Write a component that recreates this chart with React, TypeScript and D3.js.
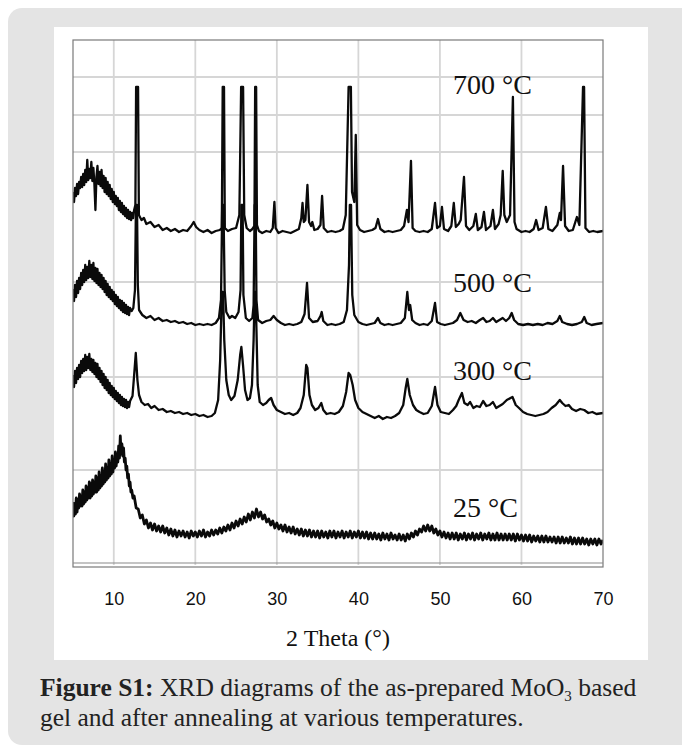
import { useRef, useEffect } from 'react';
import * as d3 from 'd3';

type Pt = [number, number];

// 2θ (deg) vs intensity (a.u., above each pattern's own baseline)
const xrd700: Pt[] = [
  [5, 40], [5.125, 30], [5.25, 44], [5.375, 36], [5.5, 48], [5.625, 38], [5.75, 50], [5.875, 44], [6, 55], [6.125, 45],
  [6.25, 58], [6.375, 47], [6.5, 62], [6.625, 50], [6.75, 72], [6.875, 52], [7, 63], [7.125, 54], [7.25, 70], [7.375, 51],
  [7.5, 64], [7.625, 48], [7.75, 22], [7.875, 55], [8, 66], [8.125, 48], [8.25, 60], [8.375, 46], [8.5, 62], [8.625, 44],
  [8.75, 56], [8.875, 40], [9, 54], [9.125, 38], [9.25, 50], [9.375, 36], [9.5, 47], [9.625, 33], [9.75, 43], [9.875, 30],
  [10, 40], [10.125, 28], [10.25, 36], [10.375, 26], [10.5, 34], [10.625, 22], [10.75, 31], [10.875, 20], [11, 29], [11.125, 18],
  [11.25, 26], [11.375, 16], [11.5, 24], [11.625, 14], [11.75, 22], [11.875, 13], [12, 20], [12.125, 12], [12.25, 19], [12.375, 14],
  [12.5, 22], [12.65, 27], [12.74, 145], [12.98, 145], [13.08, 17], [13.4, 12], [13.7, 14], [14, 8], [14.5, 10], [15, 5],
  [15.5, 7], [16, 2], [16.5, 4], [17, 1], [17.5, 3], [18, 0], [18.5, 2], [19, 1], [19.5, 6], [19.8, 10],
  [20.1, 5], [20.5, 2], [21, 0], [21.5, 2], [22, -1], [22.5, 1], [23, 2], [23.25, 4], [23.36, 145], [23.52, 145],
  [23.62, 4], [24, 1], [24.5, 3], [25, 4], [25.4, 17], [25.62, 145], [25.86, 145], [26, 17], [26.3, 4], [26.7, 1],
  [27, 3], [27.25, 6], [27.34, 145], [27.46, 145], [27.56, 7], [27.8, 1], [28.2, -1], [28.7, 1], [29.2, 0], [29.5, 4],
  [29.7, 30], [29.85, 4], [30.2, -1], [30.7, 1], [31.2, 0], [31.7, -1], [32.2, 1], [32.7, 3], [33, 14], [33.15, 29],
  [33.3, 10], [33.5, 12], [33.75, 47], [33.95, 10], [34.2, 6], [34.35, 10], [34.6, 2], [35, 3], [35.35, 7], [35.55, 36],
  [35.75, 4], [36.2, 0], [36.7, 1], [37.2, 0], [37.7, 1], [38.1, 3], [38.45, 17], [38.8, 145], [39.08, 145], [39.22, 40],
  [39.5, 30], [39.68, 97], [39.85, 7], [40.2, 2], [40.7, 0], [41.2, 1], [41.7, 2], [42.1, 4], [42.4, 13], [42.7, 3],
  [43.2, 0], [43.7, 1], [44.2, 0], [44.7, 1], [45.2, 2], [45.6, 6], [45.95, 22], [46.15, 10], [46.45, 71], [46.65, 4],
  [47, 1], [47.5, 0], [48, 1], [48.5, 0], [49, 3], [49.4, 29], [49.65, 4], [50, 6], [50.25, 25], [50.5, 3],
  [51, 1], [51.4, 6], [51.7, 29], [51.95, 5], [52.3, 8], [52.55, 12], [52.95, 55], [53.2, 6], [53.6, 2], [54.1, 6],
  [54.4, 18], [54.65, 2], [55.1, 5], [55.4, 20], [55.65, 2], [56.2, 6], [56.5, 22], [56.75, 3], [57.2, 8], [57.45, 17],
  [57.7, 61], [57.9, 17], [58.2, 10], [58.6, 17], [58.95, 135], [59.15, 10], [59.4, 3], [60, 0], [60.5, 1], [61, 0],
  [61.5, 3], [61.8, 12], [62.1, 2], [62.6, 4], [63, 25], [63.3, 3], [63.8, 1], [64.4, 7], [64.7, 19], [64.85, 12],
  [65.1, 66], [65.35, 6], [65.8, 1], [66.3, 2], [66.8, 15], [67.1, 7], [67.55, 145], [67.68, 145], [67.85, 4], [68.3, 0],
  [68.8, 1], [69.3, 0], [70, 1],
];

const xrd500: Pt[] = [
  [5, 36], [5.125, 24], [5.25, 40], [5.375, 28], [5.5, 44], [5.625, 32], [5.75, 47], [5.875, 36], [6, 52], [6.125, 40],
  [6.25, 55], [6.375, 43], [6.5, 60], [6.625, 45], [6.75, 58], [6.875, 47], [7, 64], [7.125, 48], [7.25, 60], [7.375, 46],
  [7.5, 62], [7.625, 44], [7.75, 57], [7.875, 42], [8, 56], [8.125, 40], [8.25, 52], [8.375, 38], [8.5, 50], [8.625, 36],
  [8.75, 47], [8.875, 33], [9, 44], [9.125, 30], [9.25, 41], [9.375, 28], [9.5, 38], [9.625, 26], [9.75, 35], [9.875, 24],
  [10, 33], [10.125, 21], [10.25, 30], [10.375, 19], [10.5, 28], [10.625, 17], [10.75, 25], [10.875, 15], [11, 24], [11.125, 13],
  [11.25, 22], [11.375, 12], [11.5, 20], [11.625, 11], [11.75, 18], [11.875, 10], [12, 17], [12.2, 14], [12.4, 17],
  [12.6, 35], [12.72, 120], [12.85, 120], [12.95, 40], [13.1, 15], [13.5, 10], [14, 7], [14.5, 9], [15, 5], [15.5, 7],
  [16, 4], [16.5, 5], [17, 3], [17.5, 4], [18, 2], [18.5, 3], [19, 1], [19.5, 2], [20, 0], [20.5, 1],
  [21, 0], [21.5, 1], [22, 0], [22.5, 2], [22.9, 7], [23.15, 25], [23.3, 120], [23.45, 120], [23.6, 35], [23.8, 13],
  [24.2, 7], [24.5, 9], [24.9, 7], [25.3, 13], [25.55, 35], [25.65, 120], [25.8, 120], [25.9, 30], [26.2, 7], [26.6, 4],
  [27, 7], [27.15, 20], [27.28, 120], [27.4, 120], [27.5, 25], [27.7, 5], [28.2, 2], [28.7, 4], [29.2, 5], [29.6, 9],
  [30, 5], [30.5, 2], [31, 0], [31.5, 1], [32, 0], [32.5, 1], [33, 3], [33.4, 11], [33.7, 42], [33.95, 7],
  [34.4, 3], [35, 4], [35.35, 9], [35.5, 13], [35.7, 4], [36.2, 0], [36.7, 1], [37.2, 0], [37.7, 1], [38.2, 3],
  [38.6, 15], [38.85, 60], [38.95, 120], [39.1, 120], [39.25, 30], [39.5, 10], [40, 3], [40.5, 1], [41, 0], [41.5, 1],
  [42, 2], [42.4, 7], [42.7, 2], [43.2, 0], [43.7, 1], [44.2, 0], [44.7, 1], [45.2, 2], [45.7, 7], [46, 33],
  [46.2, 15], [46.35, 20], [46.6, 5], [47, 2], [47.5, 0], [48, 1], [48.5, 0], [49, 4], [49.4, 22], [49.65, 3],
  [50.1, 1], [50.6, 0], [51.1, 1], [51.6, 2], [52.1, 5], [52.5, 12], [52.9, 5], [53.4, 3], [53.9, 4], [54.4, 2],
  [54.9, 5], [55.3, 7], [55.7, 3], [56.1, 4], [56.5, 7], [56.9, 3], [57.3, 5], [57.7, 7], [58.1, 4], [58.5, 7],
  [58.8, 12], [59.1, 5], [59.6, 1], [60.2, 0], [60.8, 1], [61.4, 0], [62, 1], [62.6, 0], [63.2, 2], [63.8, 1],
  [64.4, 4], [64.7, 9], [65, 3], [65.6, 1], [66.2, 0], [66.8, 1], [67.4, 3], [67.7, 8], [68, 2], [68.6, 0],
  [69.2, 1], [70, 2],
];

const xrd300: Pt[] = [
  [5, 42], [5.125, 30], [5.25, 46], [5.375, 34], [5.5, 49], [5.625, 38], [5.75, 52], [5.875, 40], [6, 56], [6.125, 44],
  [6.25, 58], [6.375, 46], [6.5, 62], [6.625, 47], [6.75, 60], [6.875, 49], [7, 63], [7.125, 47], [7.25, 58], [7.375, 45],
  [7.5, 57], [7.625, 43], [7.75, 54], [7.875, 40], [8, 53], [8.125, 38], [8.25, 49], [8.375, 35], [8.5, 46], [8.625, 32],
  [8.75, 43], [8.875, 29], [9, 40], [9.125, 27], [9.25, 37], [9.375, 24], [9.5, 34], [9.625, 22], [9.75, 31], [9.875, 20],
  [10, 29], [10.125, 18], [10.25, 26], [10.375, 16], [10.5, 24], [10.625, 14], [10.75, 22], [10.875, 12], [11, 20], [11.125, 11],
  [11.25, 18], [11.375, 10], [11.5, 17], [11.625, 9], [11.75, 15], [11.875, 10], [12, 16], [12.3, 21],
  [12.5, 42], [12.7, 64], [12.9, 37], [13.1, 22], [13.4, 15], [13.8, 12], [14.2, 13], [14.6, 9], [15, 11], [15.5, 7],
  [16, 8], [16.5, 5], [17, 6], [17.5, 4], [18, 5], [18.5, 3], [19, 4], [19.5, 2], [20, 3], [20.5, 1],
  [21, 2], [21.5, 0], [22, 1], [22.4, 4], [22.8, 17], [23.05, 57], [23.25, 125], [23.4, 125], [23.55, 77], [23.8, 37],
  [24.1, 22], [24.4, 17], [24.8, 21], [25.2, 37], [25.5, 62], [25.65, 70], [25.85, 52], [26.1, 27], [26.4, 17], [26.7, 19],
  [26.95, 32], [27.15, 77], [27.28, 125], [27.4, 125], [27.5, 87], [27.65, 32], [27.9, 15], [28.3, 12], [28.7, 14], [29, 17],
  [29.3, 19], [29.6, 12], [30, 7], [30.5, 5], [31, 3], [31.5, 4], [32, 2], [32.5, 4], [32.9, 9], [33.3, 22],
  [33.6, 52], [33.75, 49], [34, 22], [34.3, 12], [34.7, 7], [35.1, 9], [35.45, 14], [35.7, 7], [36.1, 3], [36.6, 4],
  [37.1, 3], [37.6, 5], [38.1, 11], [38.5, 25], [38.8, 44], [39, 42], [39.3, 32], [39.6, 17], [40, 9], [40.5, 5],
  [41, 3], [41.5, 1], [42, -1], [42.5, 1], [43, -2], [43.5, 0], [44, -1], [44.5, 1], [45, 4], [45.5, 12],
  [45.8, 29], [46, 38], [46.3, 22], [46.7, 12], [47.1, 7], [47.5, 5], [48, 3], [48.5, 4], [49, 11], [49.4, 30],
  [49.7, 12], [50.1, 5], [50.6, 4], [51.1, 3], [51.6, 7], [52, 11], [52.3, 17], [52.7, 24], [53, 14], [53.4, 12],
  [53.7, 15], [54.1, 9], [54.5, 11], [54.9, 10], [55.3, 16], [55.7, 11], [56.1, 12], [56.5, 15], [56.9, 9], [57.3, 11],
  [57.7, 13], [58.2, 17], [58.9, 20], [59.3, 12], [59.7, 9], [60.2, 5], [60.7, 3], [61.2, 2], [61.7, 1], [62.2, 2],
  [62.7, 3], [63.2, 5], [63.7, 9], [64.2, 12], [64.7, 17], [65, 14], [65.4, 11], [65.8, 12], [66.2, 8], [66.7, 6],
  [67.2, 8], [67.7, 7], [68.2, 4], [68.7, 5], [69.2, 3], [70, 4],
];

const xrd25: Pt[] = [
  [5, 32], [5.1, 18], [5.2, 30], [5.3, 20], [5.4, 36], [5.5, 22], [5.6, 34], [5.7, 26], [5.8, 40], [5.9, 28],
  [6, 38], [6.1, 28], [6.2, 44], [6.3, 30], [6.4, 42], [6.5, 32], [6.6, 48], [6.7, 34], [6.8, 46], [6.9, 36],
  [7, 52], [7.1, 36], [7.2, 50], [7.3, 38], [7.4, 54], [7.5, 40], [7.6, 52], [7.7, 42], [7.8, 58], [7.9, 42],
  [8, 56], [8.1, 44], [8.2, 62], [8.3, 46], [8.4, 58], [8.5, 48], [8.6, 66], [8.7, 50], [8.8, 62], [8.9, 52],
  [9, 70], [9.1, 54], [9.2, 66], [9.3, 56], [9.4, 74], [9.5, 58], [9.6, 70], [9.7, 60], [9.8, 78], [9.9, 62],
  [10, 74], [10.1, 66], [10.2, 82], [10.3, 68], [10.4, 80], [10.5, 72], [10.6, 88], [10.7, 76], [10.8, 98], [10.9, 80],
  [11, 90], [11.1, 78], [11.2, 86], [11.3, 72], [11.4, 76], [11.5, 64], [11.6, 68], [11.7, 56], [11.8, 60], [11.9, 48],
  [12, 52], [12.1, 42], [12.2, 44], [12.35, 36], [12.5, 38], [12.75, 26], [13, 25], [13.25, 16], [13.5, 19], [13.75, 10],
  [14, 14], [14.25, 6], [14.5, 11], [14.75, 4], [15, 10], [15.25, 3], [15.5, 8], [15.75, 2], [16, 8], [16.25, 1],
  [16.5, 6], [16.75, -1], [17, 5], [17.25, -2], [17.5, 4], [17.75, -3], [18, 3], [18.25, -2], [18.5, 3], [18.75, -3],
  [19, 2], [19.25, -4], [19.5, 3], [19.75, -2], [20, 2], [20.25, -3], [20.5, 3], [20.75, -2], [21, 4], [21.25, -3],
  [21.5, 2], [21.75, -2], [22, 4], [22.25, -1], [22.5, 4], [22.75, 0], [23, 6], [23.25, 1], [23.5, 7], [23.75, 3],
  [24, 9], [24.25, 4], [24.5, 11], [24.75, 6], [25, 13], [25.25, 8], [25.5, 15], [25.75, 10], [26, 17], [26.25, 12],
  [26.5, 20], [26.75, 14], [27, 22], [27.25, 16], [27.5, 25], [27.75, 17], [28, 22], [28.25, 15], [28.5, 19], [28.75, 12],
  [29, 15], [29.25, 9], [29.5, 13], [29.75, 6], [30, 11], [30.25, 5], [30.5, 9], [30.75, 3], [31, 9], [31.25, 2],
  [31.5, 7], [31.75, 1], [32, 7], [32.25, 0], [32.5, 5], [32.75, -1], [33, 5], [33.25, -2], [33.5, 4], [33.75, -2],
  [34, 4], [34.25, -3], [34.5, 3], [34.75, -3], [35, 3], [35.25, -4], [35.5, 3], [35.75, -3], [36, 2], [36.25, -4],
  [36.5, 3], [36.75, -3], [37, 3], [37.25, -4], [37.5, 2], [37.75, -3], [38, 3], [38.25, -4], [38.5, 2], [38.75, -3],
  [39, 3], [39.25, -4], [39.5, 2], [39.75, -3], [40, 3], [40.25, -4], [40.5, 2], [40.75, -4], [41, 2], [41.25, -5],
  [41.5, 1], [41.75, -5], [42, 1], [42.25, -5], [42.5, 0], [42.75, -6], [43, 1], [43.25, -5], [43.5, 0], [43.75, -6],
  [44, 1], [44.25, -5], [44.5, -1], [44.75, -6], [45, 0], [45.25, -6], [45.5, -1], [45.75, -7], [46, 0], [46.25, -5],
  [46.5, 1], [46.75, -3], [47, 3], [47.25, -1], [47.5, 5], [47.75, 2], [48, 8], [48.25, 3], [48.5, 9], [48.75, 3],
  [49, 8], [49.25, 1], [49.5, 5], [49.75, -1], [50, 3], [50.25, -3], [50.5, 2], [50.75, -4], [51, 1], [51.25, -5],
  [51.5, 1], [51.75, -5], [52, 1], [52.25, -6], [52.5, 0], [52.75, -5], [53, 1], [53.25, -6], [53.5, 0], [53.75, -5],
  [54, 1], [54.25, -6], [54.5, 0], [54.75, -5], [55, 1], [55.25, -6], [55.5, 0], [55.75, -5], [56, 1], [56.25, -6],
  [56.5, 0], [56.75, -6], [57, 1], [57.25, -6], [57.5, 0], [57.75, -6], [58, 0], [58.25, -6], [58.5, 0], [58.75, -6],
  [59, 0], [59.25, -7], [59.5, 0], [59.75, -6], [60, -1], [60.25, -7], [60.5, -1], [60.75, -7], [61, -1], [61.25, -8],
  [61.5, -2], [61.75, -7], [62, -2], [62.25, -8], [62.5, -2], [62.75, -8], [63, -2], [63.25, -8], [63.5, -3], [63.75, -8],
  [64, -3], [64.25, -9], [64.5, -3], [64.75, -9], [65, -3], [65.25, -9], [65.5, -4], [65.75, -9], [66, -3], [66.25, -10],
  [66.5, -4], [66.75, -10], [67, -4], [67.25, -10], [67.5, -4], [67.75, -10], [68, -5], [68.25, -11], [68.5, -5], [68.75, -10],
  [69, -5], [69.25, -11], [69.5, -5], [69.75, -10], [70, -6],
];

const patternLabels = ['700 °C', '500 °C', '300 °C', '25 °C'];
const patternOffsets = [333, 240, 148, 31];
const patternData = [xrd700, xrd500, xrd300, xrd25];
const labelLevels = [471, 273, 185, 48];
const labelTheta = 51.6;

const thetaTicks = [10, 20, 30, 40, 50, 60, 70];
const gridLevels = [95, 188, 283, 413, 450, 488];

const W = 682;
const H = 747;

function App() {
  const svgRef = useRef<SVGSVGElement>(null);

  useEffect(() => {
    const svg = d3.select(svgRef.current);
    svg.selectAll('*').remove();

    // card + white panel
    svg.append('rect')
      .attr('x', 8).attr('y', 8).attr('width', 700).attr('height', 737)
      .attr('rx', 14).attr('fill', '#e4e4e4');
    svg.append('rect')
      .attr('x', 54).attr('y', 27).attr('width', 594).attr('height', 633)
      .attr('fill', '#fff');

    const plot = { left: 73, right: 603, top: 40, bottom: 565 };
    const x = d3.scaleLinear().domain([5, 70]).range([plot.left, plot.right]);
    const y = d3.scaleLinear().domain([0, 525]).range([plot.bottom, plot.top]);

    const grid = svg.append('g')
      .attr('stroke', '#d6d6d6')
      .attr('stroke-width', 1.8);
    grid.selectAll('line.v')
      .data(thetaTicks.slice(0, -1))
      .enter()
      .append('line')
      .attr('x1', (d) => x(d)).attr('x2', (d) => x(d))
      .attr('y1', plot.top).attr('y2', plot.bottom);
    grid.selectAll('line.h')
      .data(gridLevels)
      .enter()
      .append('line')
      .attr('x1', plot.left).attr('x2', plot.right)
      .attr('y1', (d) => y(d)).attr('y2', (d) => y(d));

    svg.append('defs')
      .append('clipPath').attr('id', 'plotClip')
      .append('rect')
      .attr('x', plot.left).attr('y', plot.top)
      .attr('width', plot.right - plot.left).attr('height', plot.bottom - plot.top);

    const series = svg.append('g').attr('clip-path', 'url(#plotClip)');
    patternData.forEach((pts, i) => {
      const off = patternOffsets[i];
      const line = d3.line<Pt>()
        .x((d) => x(d[0]))
        .y((d) => y(d[1] + off));
      series.append('path')
        .attr('d', line(pts))
        .attr('fill', 'none')
        .attr('stroke', '#0a0a0a')
        .attr('stroke-width', i === 3 ? 2.8 : 2.3)
        .attr('stroke-linejoin', 'round');
    });

    // frame with double bottom line
    svg.append('rect')
      .attr('x', plot.left).attr('y', plot.top)
      .attr('width', plot.right - plot.left).attr('height', plot.bottom + 2 - plot.top)
      .attr('fill', 'none').attr('stroke', '#7a7a7a').attr('stroke-width', 1.2);
    svg.append('line')
      .attr('x1', plot.left).attr('x2', plot.right)
      .attr('y1', plot.bottom - 2).attr('y2', plot.bottom - 2)
      .attr('stroke', '#8a8a8a').attr('stroke-width', 1.2);

    const xAxis = d3.axisBottom(x).tickValues(thetaTicks).tickSize(0).tickPadding(27);
    const ax = svg.append('g')
      .attr('transform', `translate(0, ${plot.bottom})`)
      .call(xAxis);
    ax.select('.domain').remove();
    ax.selectAll('text')
      .attr('font-family', 'Liberation Sans, Arial, sans-serif')
      .attr('font-size', 18)
      .attr('fill', '#111');

    svg.append('text')
      .attr('x', (plot.left + plot.right) / 2).attr('y', 646)
      .attr('text-anchor', 'middle')
      .attr('font-family', 'Liberation Serif, serif')
      .attr('font-size', 24)
      .attr('fill', '#111')
      .text('2 Theta (°)');

    svg.append('g')
      .selectAll('text')
      .data(patternLabels)
      .enter()
      .append('text')
      .attr('x', x(labelTheta))
      .attr('y', (_, i) => y(labelLevels[i]))
      .attr('font-family', 'Liberation Serif, serif')
      .attr('font-size', 28)
      .attr('fill', '#111')
      .text((d) => d);

    // caption
    const cap = svg.append('g')
      .attr('font-family', 'Liberation Serif, serif')
      .attr('font-size', 25.5)
      .attr('fill', '#222');
    const l1 = cap.append('text').attr('x', 40).attr('y', 696);
    l1.append('tspan').attr('font-weight', 'bold').text('Figure S1:');
    l1.append('tspan').text(' XRD diagrams of the as-prepared MoO');
    l1.append('tspan').attr('font-size', 15).attr('dy', 5).text('3');
    l1.append('tspan').attr('dy', -5).text(' based');
    cap.append('text').attr('x', 40).attr('y', 726)
      .text('gel and after annealing at various temperatures.');

    return () => {
      svg.selectAll('*').remove();
    };
  }, []);

  return (
    <svg
      ref={svgRef}
      width={W}
      height={H}
      style={{ position: 'absolute', left: 0, top: 0 }}
    />
  );
}

export default App;
